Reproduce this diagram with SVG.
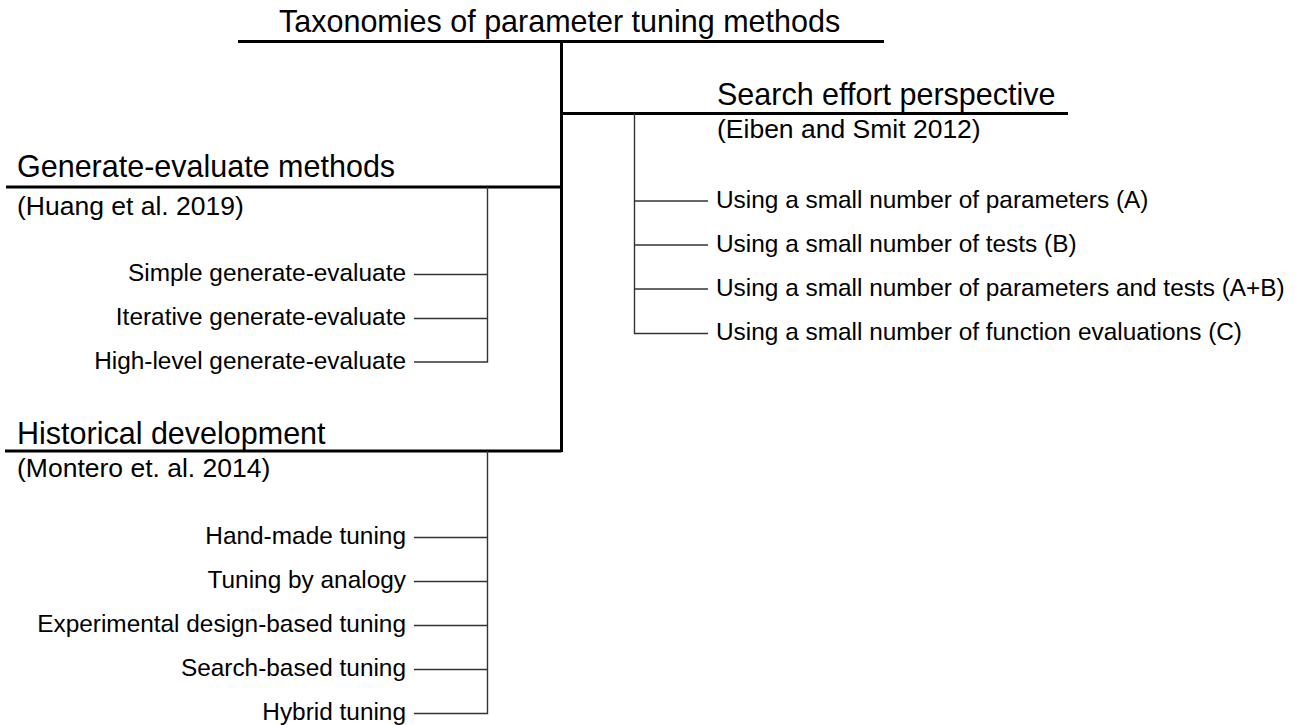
<svg xmlns="http://www.w3.org/2000/svg" width="1299" height="725" viewBox="0 0 1299 725">
<style>
text{font-family:"Liberation Sans",Arial,sans-serif;fill:#000}
.h{font-size:30.5px}
.c{font-size:26.5px}
.l{font-size:24.4px}
.r{text-anchor:end}
.thick{stroke:#000;stroke-width:3;fill:none}
.thin{stroke:#333;stroke-width:1.4;fill:none}
</style>
<rect width="1299" height="725" fill="#fff"/>
<g id="connectors">
<line class="thick" x1="238" y1="41.5" x2="884" y2="41.5"/>
<line class="thick" x1="561.5" y1="41.5" x2="561.5" y2="452"/>
<line class="thick" x1="561.5" y1="113.5" x2="1068" y2="113.5"/>
<line class="thick" x1="6" y1="187" x2="561.5" y2="187"/>
<line class="thick" x1="5" y1="451" x2="561.5" y2="451"/>
<polyline class="thin" points="634.5,113.5 634.5,333.5 708,333.5"/>
<line class="thin" x1="634.5" y1="201" x2="708" y2="201"/>
<line class="thin" x1="634.5" y1="245" x2="708" y2="245"/>
<line class="thin" x1="634.5" y1="289" x2="708" y2="289"/>
<polyline class="thin" points="487.5,187 487.5,362 414,362"/>
<line class="thin" x1="414" y1="274.5" x2="487.5" y2="274.5"/>
<line class="thin" x1="414" y1="318.5" x2="487.5" y2="318.5"/>
<polyline class="thin" points="487.5,451 487.5,713.5 414,713.5"/>
<line class="thin" x1="414" y1="537.5" x2="487.5" y2="537.5"/>
<line class="thin" x1="414" y1="581.5" x2="487.5" y2="581.5"/>
<line class="thin" x1="414" y1="625.5" x2="487.5" y2="625.5"/>
<line class="thin" x1="414" y1="669.5" x2="487.5" y2="669.5"/>
</g>
<g id="root"><text class="h" x="279" y="32">Taxonomies of parameter tuning methods</text></g>
<g id="search">
<text class="h" x="717" y="105">Search effort perspective</text>
<text class="c" x="717" y="138">(Eiben and Smit 2012)</text>
</g>
<g id="search-a"><text class="l" x="716" y="208">Using a small number of parameters (A)</text></g>
<g id="search-b"><text class="l" x="716" y="252">Using a small number of tests (B)</text></g>
<g id="search-ab"><text class="l" x="716" y="296">Using a small number of parameters and tests (A+B)</text></g>
<g id="search-c"><text class="l" x="716" y="340">Using a small number of function evaluations (C)</text></g>
<g id="genev">
<text class="h" x="17" y="177">Generate-evaluate methods</text>
<text class="c" x="17" y="215">(Huang et al. 2019)</text>
</g>
<g id="genev-1"><text class="l r" x="406" y="281">Simple generate-evaluate</text></g>
<g id="genev-2"><text class="l r" x="406" y="325">Iterative generate-evaluate</text></g>
<g id="genev-3"><text class="l r" x="406" y="369">High-level generate-evaluate</text></g>
<g id="hist">
<text class="h" x="17" y="444">Historical development</text>
<text class="c" x="17" y="477">(Montero et. al. 2014)</text>
</g>
<g id="hist-1"><text class="l r" x="406" y="544">Hand-made tuning</text></g>
<g id="hist-2"><text class="l r" x="406" y="588">Tuning by analogy</text></g>
<g id="hist-3"><text class="l r" x="406" y="632">Experimental design-based tuning</text></g>
<g id="hist-4"><text class="l r" x="406" y="676">Search-based tuning</text></g>
<g id="hist-5"><text class="l r" x="406" y="720">Hybrid tuning</text></g>
</svg>
